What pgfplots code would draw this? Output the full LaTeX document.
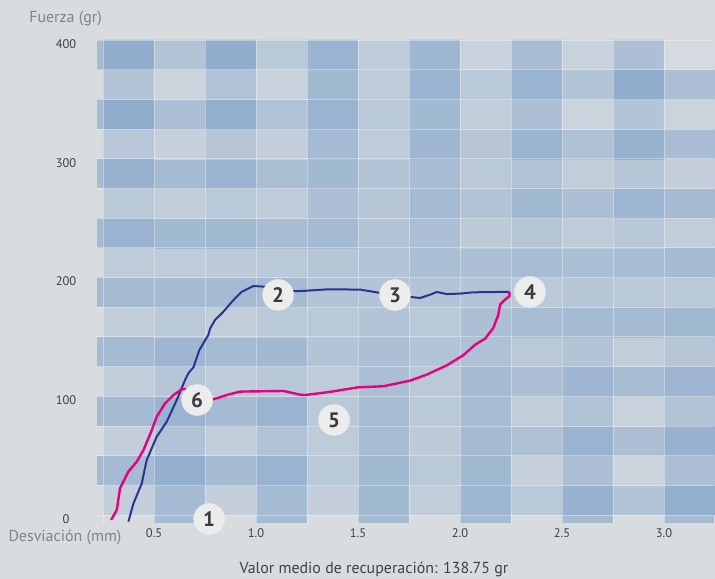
\documentclass[border=0pt]{standalone}
\usepackage{pgfplots}
\pgfplotsset{compat=1.18}
\usepackage{fontspec}
\setmainfont{PT Sans}
\definecolor{bg}{RGB}{216,220,223}
\definecolor{strip}{RGB}{165,187,210}
\definecolor{blueline}{RGB}{46,49,146}
\definecolor{pinkline}{RGB}{230,0,126}
\definecolor{lbl}{RGB}{125,132,138}
\definecolor{tick}{RGB}{62,66,70}
\definecolor{circ}{RGB}{236,236,236}
\definecolor{numtext}{RGB}{58,58,58}
\pagecolor{bg}
\begin{document}
\begin{tikzpicture}
\path (0,0) rectangle (715bp,579bp);
\begin{axis}[
  set layers,
  at={(97bp,56bp)}, anchor=south west,
  scale only axis, width=617.1bp, height=483bp,
  xmin=0.22, xmax=3.245, ymin=-6.7, ymax=400,
  clip=false,
  axis line style={draw=none},
  major tick length=0pt, minor tick length=0pt,
  xtick={0.5,1,1.5,2,2.5,3}, xticklabels={0.5,1.0,1.5,2.0,2.5,3.0},
  minor xtick={0.25,0.75,1.25,1.75,2.25,2.75},
  ytick={0,100,200,300,400}, yticklabels={0,100,200,300,400},
  minor ytick={25,50,75,125,150,175,225,250,275,325,350,375},
  grid=both,
  major grid style={white, opacity=0.35, line width=0.7bp},
  minor grid style={white, opacity=0.35, line width=0.7bp},
  /pgf/number format/assume math mode=true,
  xticklabel style={font=\fontsize{12.5}{14}\selectfont, text=tick, anchor=center, yshift=-10bp},
  yticklabel style={font=\fontsize{12.5}{14}\selectfont, text=tick, anchor=center, xshift=-31bp, yshift=-4bp},
  colormap={plaid}{rgb255(0cm)=(216,220,223) rgb255(1cm)=(207,215,222) rgb255(11cm)=(137,168,203)},
  point meta min=-0.5, point meta max=5,
]
\addplot[on layer=axis background, matrix plot*, mesh/cols=12, mesh/rows=16, point meta=explicit]
table[meta=c] {
x y c
0.375 12.5 0.8
0.625 12.5 3
0.875 12.5 0.8
1.125 12.5 3
1.375 12.5 0.8
1.625 12.5 3.2
1.875 12.5 1
2.125 12.5 3.5
2.375 12.5 1.5
2.625 12.5 4
2.875 12.5 2
3.125 12.5 4.3
0.375 37.5 3
0.625 37.5 4.2
0.875 37.5 3
1.125 37.5 3.8
1.375 37.5 1.5
1.625 37.5 3.2
1.875 37.5 1.5
2.125 37.5 3.2
2.375 37.5 0.7
2.625 37.5 2.5
2.875 37.5 0.3
3.125 37.5 2.5
0.375 62.5 0.8
0.625 62.5 2.2
0.875 62.5 1
1.125 62.5 2.2
1.375 62.5 1.2
1.625 62.5 2.8
1.875 62.5 1.3
2.125 62.5 3
2.375 62.5 2.3
2.625 62.5 3.8
2.875 62.5 2.5
3.125 62.5 4
0.375 87.5 3
0.625 87.5 3.8
0.875 87.5 3
1.125 87.5 3.8
1.375 87.5 1.5
1.625 87.5 2.8
1.875 87.5 1.5
2.125 87.5 2.8
2.375 87.5 1
2.625 87.5 2.2
2.875 87.5 0.5
3.125 87.5 2
0.375 112.5 1
0.625 112.5 1.8
0.875 112.5 1.2
1.125 112.5 1.6
1.375 112.5 1.2
1.625 112.5 2.5
1.875 112.5 1.5
2.125 112.5 3
2.375 112.5 2.5
2.625 112.5 3.5
2.875 112.5 2.8
3.125 112.5 3.5
0.375 137.5 3
0.625 137.5 3.5
0.875 137.5 3
1.125 137.5 3.2
1.375 137.5 2
1.625 137.5 2.5
1.875 137.5 2
2.125 137.5 2.3
2.375 137.5 1.5
2.625 137.5 2
2.875 137.5 1
3.125 137.5 1.8
0.375 162.5 1
0.625 162.5 1.5
0.875 162.5 1
1.125 162.5 1.5
1.375 162.5 1.5
1.625 162.5 2
1.875 162.5 1.5
2.125 162.5 2.5
2.375 162.5 2.8
2.625 162.5 3
2.875 162.5 3
3.125 162.5 3.3
0.375 187.5 3
0.625 187.5 3
0.875 187.5 3
1.125 187.5 3
1.375 187.5 2
1.625 187.5 2
1.875 187.5 2
2.125 187.5 2
2.375 187.5 1.5
2.625 187.5 1.8
2.875 187.5 1.5
3.125 187.5 1.5
0.375 212.5 1.2
0.625 212.5 1.2
0.875 212.5 1.3
1.125 212.5 1.4
1.375 212.5 1.8
1.625 212.5 2
1.875 212.5 2.6
2.125 212.5 2.5
2.375 212.5 2.8
2.625 212.5 2.6
2.875 212.5 2.8
3.125 212.5 3
0.375 237.5 3.8
0.625 237.5 3.2
0.875 237.5 3.3
1.125 237.5 2.8
1.375 237.5 3
1.625 237.5 2
1.875 237.5 2.5
2.125 237.5 1.3
2.375 237.5 1.8
2.625 237.5 1.2
2.875 237.5 1.6
3.125 237.5 1
0.375 262.5 1.4
0.625 262.5 1
0.875 262.5 1.5
1.125 262.5 1.2
1.375 262.5 2.5
1.625 262.5 1.8
1.875 262.5 3
2.125 262.5 2
2.375 262.5 3.3
2.625 262.5 2.5
2.875 262.5 3.5
3.125 262.5 3
0.375 287.5 4
0.625 287.5 3
0.875 287.5 3.7
1.125 287.5 2.6
1.375 287.5 3.2
1.625 287.5 2
1.875 287.5 2.8
2.125 287.5 1.5
2.375 287.5 2.2
2.625 287.5 1
2.875 287.5 1.8
3.125 287.5 0.8
0.375 312.5 1.7
0.625 312.5 0.6
0.875 312.5 1.8
1.125 312.5 0.8
1.375 312.5 3
1.625 312.5 1.2
1.875 312.5 3.5
2.125 312.5 1.8
2.375 312.5 3.8
2.625 312.5 2.3
2.875 312.5 4
3.125 312.5 2.8
0.375 337.5 4.5
0.625 337.5 2.5
0.875 337.5 4.3
1.125 337.5 2.2
1.375 337.5 3.8
1.625 337.5 1.5
1.875 337.5 3.2
2.125 337.5 1
2.375 337.5 2.5
2.625 337.5 0.3
2.875 337.5 2
3.125 337.5 0.3
0.375 362.5 2
0.625 362.5 0.3
0.875 362.5 2.2
1.125 362.5 0.5
1.375 362.5 3.2
1.625 362.5 1.2
1.875 362.5 3.8
2.125 362.5 1.5
2.375 362.5 3.8
2.625 362.5 2
2.875 362.5 4.5
3.125 362.5 2.5
0.375 387.5 4.5
0.625 387.5 2
0.875 387.5 4.5
1.125 387.5 1.5
1.375 387.5 3.8
1.625 387.5 1.2
1.875 387.5 3.5
2.125 387.5 0.5
2.375 387.5 2.8
2.625 387.5 0.5
2.875 387.5 2.5
3.125 387.5 -0.3
};
% left strip (row bands) and bottom strip (column bands)
\addplot[on layer=axis background, fill=strip, draw=none] coordinates {(0.22,25)(0.25,25)(0.25,50)(0.22,50)} --cycle;
\addplot[on layer=axis background, fill=strip, draw=none] coordinates {(0.22,75)(0.25,75)(0.25,100)(0.22,100)} --cycle;
\addplot[on layer=axis background, fill=strip, draw=none] coordinates {(0.22,125)(0.25,125)(0.25,150)(0.22,150)} --cycle;
\addplot[on layer=axis background, fill=strip, draw=none] coordinates {(0.22,175)(0.25,175)(0.25,200)(0.22,200)} --cycle;
\addplot[on layer=axis background, fill=strip, draw=none] coordinates {(0.22,225)(0.25,225)(0.25,250)(0.22,250)} --cycle;
\addplot[on layer=axis background, fill=strip, draw=none] coordinates {(0.22,275)(0.25,275)(0.25,300)(0.22,300)} --cycle;
\addplot[on layer=axis background, fill=strip, draw=none] coordinates {(0.22,325)(0.25,325)(0.25,350)(0.22,350)} --cycle;
\addplot[on layer=axis background, fill=strip, draw=none] coordinates {(0.22,375)(0.25,375)(0.25,400)(0.22,400)} --cycle;
\addplot[on layer=axis background, fill=strip, draw=none] coordinates {(0.5,-6.7)(0.75,-6.7)(0.75,0)(0.5,0)} --cycle;
\addplot[on layer=axis background, fill=strip, draw=none] coordinates {(1.0,-6.7)(1.25,-6.7)(1.25,0)(1.0,0)} --cycle;
\addplot[on layer=axis background, fill=strip, draw=none] coordinates {(1.5,-6.7)(1.75,-6.7)(1.75,0)(1.5,0)} --cycle;
\addplot[on layer=axis background, fill=strip, draw=none] coordinates {(2.0,-6.7)(2.25,-6.7)(2.25,0)(2.0,0)} --cycle;
\addplot[on layer=axis background, fill=strip, draw=none] coordinates {(2.5,-6.7)(2.75,-6.7)(2.75,0)(2.5,0)} --cycle;
\addplot[on layer=axis background, fill=strip, draw=none] coordinates {(3.0,-6.7)(3.245,-6.7)(3.245,0)(3.0,0)} --cycle;
% loading curve
\addplot[blueline, line width=2bp, line join=round] coordinates {
(0.374,-5.6)(0.399,9.8)(0.44,26.7)(0.448,33.7)(0.464,46.3)(0.513,66)(0.562,78.6)(0.611,96.8)(0.652,113.7)(0.668,119.3)(0.693,124.4)(0.722,138.9)(0.766,151.6)(0.775,157.2)(0.799,164.2)(0.840,171.2)(0.889,181)(0.930,188)(0.987,192.8)(1.036,192.3)(1.08,191)(1.19,188.5)(1.216,188.5)(1.35,190)(1.51,189.8)(1.608,187)(1.68,185)(1.771,183.3)(1.804,182.7)(1.853,185.5)(1.886,187.8)(1.935,186)(2.0,186.4)(2.065,187.5)(2.196,187.8)(2.242,187.8)
};
% unloading curve
\addplot[pinkline, line width=2.4bp, line join=round] coordinates {
(0.289,-4.2)(0.317,4.2)(0.333,22.5)(0.374,36.5)(0.415,44.9)(0.448,54.7)(0.489,71.6)(0.513,82.8)(0.554,94)(0.595,101)(0.636,105.8)(0.66,106)(0.72,100)(0.791,97.4)(0.856,101)(0.922,103.9)(1.134,104.4)(1.216,101.3)(1.24,101)(1.347,103.3)(1.379,104.1)(1.50,107.5)(1.543,107.8)(1.624,108.4)(1.755,113.1)(1.837,118.2)(1.935,126)(2.016,134.5)(2.074,143.4)(2.123,148.5)(2.163,157.5)(2.188,168.7)(2.196,177.1)(2.22,181.3)(2.242,184.2)(2.242,188)
};
% numbered markers
\addplot[circ, only marks, mark=*, mark size=15.5bp, mark options={fill=circ, draw=circ},
  point meta=explicit symbolic, nodes near coords,
  every node near coord/.style={anchor=center, font=\fontsize{21}{21}\selectfont\bfseries, text=numtext}]
coordinates {(0.77,-3.4)[1] (1.108,185.3)[2] (1.681,185.3)[3] (2.343,187.8)[4] (1.382,80)[5] (0.711,96.8)[6]};
\end{axis}
\node[inner sep=0pt, font=\fontsize{16}{18}\selectfont, text=lbl] at (65.5bp,560bp) {Fuerza (gr)};
\node[inner sep=0pt, font=\fontsize{16}{18}\selectfont, text=lbl] at (65bp,41bp) {Desviación (mm)};
\node[inner sep=0pt, font=\fontsize{16}{18}\selectfont, text=tick] at (374bp,9bp) {Valor medio de recuperación: 138.75 gr};
\end{tikzpicture}
\end{document}
